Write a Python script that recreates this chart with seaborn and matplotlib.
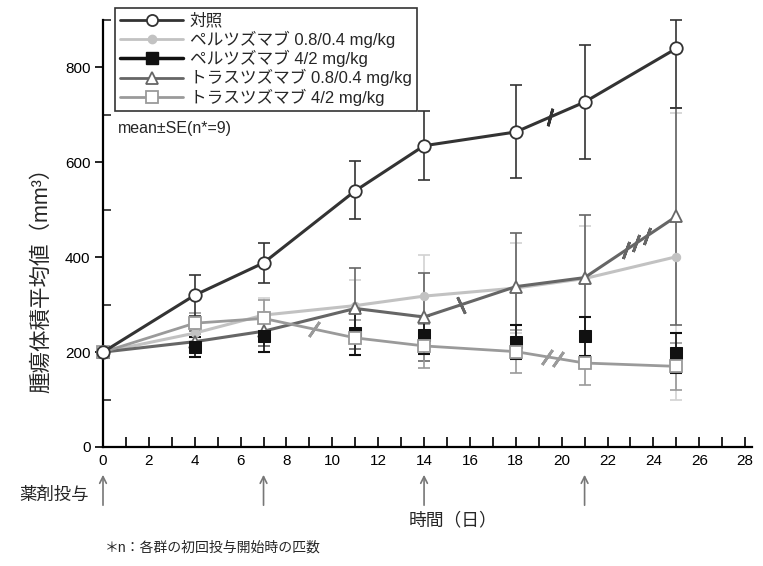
import matplotlib
matplotlib.use("Agg")
import matplotlib.pyplot as plt
import seaborn as sns
import numpy as np
from matplotlib.lines import Line2D
from matplotlib.ticker import MultipleLocator

# ---------------- data ----------------
days = [0, 4, 7, 11, 14, 18, 21, 25]
control = [200, 320, 388, 540, 635, 664, 727, 840]
control_se_lo = [8, 43, 43, 60, 73, 98, 121, 125]
control_se_hi = [8, 43, 43, 62, 73, 98, 121, 59]
pertu_low = [200, 240, 278, 298, 318, 335, 355, 401]
pertu_low_se = [8, 22, 35, 55, 87, 95, 110, 302]
pertu_high = [200, 211, 233, 240, 236, 221, 233, 198]
pertu_high_se = [8, 21, 33, 46, 40, 36, 41, 42]
trastu_low = [200, 222, 244, 292, 274, 338, 357, 486]
trastu_low_se = [8, 22, 32, 86, 93, 113, 133, 228]
trastu_high = [200, 261, 271, 230, 213, 201, 177, 170]
trastu_high_se = [8, 22, 38, 37, 46, 46, 47, 50]

labels = ["対照", "ペルツズマブ 0.8/0.4 mg/kg", "ペルツズマブ 4/2 mg/kg",
          "トラスツズマブ 0.8/0.4 mg/kg", "トラスツズマブ 4/2 mg/kg"]
dosing_days = [0, 7, 14, 21]
x_ticks = list(range(0, 29, 2))
y_ticks = [0, 200, 400, 600, 800]

# break marks (days along the curves)
breaks_control = [19.5]
breaks_trastu_high = [9.2, 19.35, 19.85]
breaks_trastu_low = [15.6, 22.8, 23.25, 23.7]

# ---------------- style ----------------
sns.set_theme(style="ticks")
plt.rcParams["font.family"] = ["Liberation Sans", "Noto Sans CJK JP", "DejaVu Sans"]

W, H = 763, 566
fig = plt.figure(figsize=(W / 100, H / 100), dpi=100)
ax_left, ax_right, ax_top, ax_bot = 103, 752, 20, 447
ax = fig.add_axes([ax_left / W, 1 - ax_bot / H, (ax_right - ax_left) / W, (ax_bot - ax_top) / H])

c_ctrl = "#333333"
c_pl = "#c2c2c2"
c_ph = "#111111"
c_tl = "#666666"
c_th = "#9a9a9a"

# error bars
ax.errorbar(days, pertu_low, yerr=pertu_low_se, fmt="none", ecolor="#d2d2d2",
            elinewidth=1.2, capsize=4, capthick=1.2, zorder=1, clip_on=False)
ax.errorbar(days, trastu_low, yerr=trastu_low_se, fmt="none", ecolor=c_tl,
            elinewidth=1.2, capsize=4, capthick=1.2, zorder=2, clip_on=False)
ax.errorbar(days, trastu_high, yerr=trastu_high_se, fmt="none", ecolor=c_th,
            elinewidth=1.2, capsize=4, capthick=1.2, zorder=2, clip_on=False)
ax.errorbar(days, pertu_high, yerr=pertu_high_se, fmt="none", ecolor=c_ph,
            elinewidth=1.2, capsize=4, capthick=1.5, zorder=2, clip_on=False)
ax.errorbar(days, control, yerr=[control_se_lo, control_se_hi], fmt="none", ecolor=c_ctrl,
            elinewidth=1.2, capsize=4, capthick=1.2, zorder=2, clip_on=False)

# lines
sns.lineplot(x=days, y=pertu_low, ax=ax, color=c_pl, linewidth=2.2, marker="o",
             markersize=6, markerfacecolor=c_pl, markeredgecolor=c_pl, zorder=3,
             clip_on=False, legend=False)
sns.lineplot(x=days, y=trastu_low, ax=ax, color=c_tl, linewidth=2.2, marker="^",
             markersize=9, markerfacecolor="white", markeredgecolor=c_tl,
             markeredgewidth=1.3, zorder=4, clip_on=False, legend=False)
sns.lineplot(x=days, y=pertu_high, ax=ax, color=c_ph, linestyle="None", marker="s",
             markersize=8, markerfacecolor=c_ph, markeredgecolor=c_ph, zorder=5,
             clip_on=False, legend=False)
sns.lineplot(x=days, y=trastu_high, ax=ax, color=c_th, linewidth=2.0, marker="s",
             markersize=8, markerfacecolor="white", markeredgecolor=c_th,
             markeredgewidth=1.3, zorder=6, clip_on=False, legend=False)
sns.lineplot(x=days, y=control, ax=ax, color=c_ctrl, linewidth=2.2, marker="o",
             markersize=9, markerfacecolor="white", markeredgecolor=c_ctrl,
             markeredgewidth=1.3, zorder=7, clip_on=False, legend=False)

# break marks
def add_breaks(bdays, series, color, angle):
    ys = np.interp(bdays, days, series)
    ax.plot(bdays, ys, linestyle="None", marker=(2, 2, angle), markersize=13,
            markeredgecolor=color, markeredgewidth=2.0, zorder=8)

add_breaks(breaks_control, control, c_ctrl, -15)
add_breaks(breaks_trastu_high, trastu_high, c_th, -35)
add_breaks(breaks_trastu_low[:1], trastu_low, c_tl, 25)
add_breaks(breaks_trastu_low[1:], trastu_low, c_tl, -20)

# axes
ax.set_xlim(0, 28.3)
ax.set_ylim(0, 900)
ax.set_xticks(x_ticks)
ax.set_yticks(y_ticks)
ax.xaxis.set_minor_locator(MultipleLocator(1))
ax.yaxis.set_minor_locator(MultipleLocator(100))
ax.tick_params(axis="x", which="both", direction="in", length=7, width=1.2,
               labelsize=11, colors="black", pad=5)
ax.tick_params(axis="y", which="major", direction="out", length=6, width=1.2,
               labelsize=11, colors="black", pad=3)
ax.tick_params(axis="y", which="minor", direction="in", length=6, width=1.2)
for s in ["top", "right"]:
    ax.spines[s].set_visible(False)
for s in ["left", "bottom"]:
    ax.spines[s].set_linewidth(1.6)
    ax.spines[s].set_color("black")
ax.set_xlabel("")
ax.set_ylabel("")
ax.set_facecolor("white")

# legend
handles = [
    Line2D([], [], color=c_ctrl, lw=2, marker="o", ms=8, mfc="white", mec=c_ctrl, mew=1.3),
    Line2D([], [], color=c_pl, lw=2, marker="o", ms=6, mfc=c_pl, mec=c_pl),
    Line2D([], [], color=c_ph, lw=2.5, marker="s", ms=8, mfc=c_ph, mec=c_ph),
    Line2D([], [], color=c_tl, lw=2, marker="^", ms=8, mfc="white", mec=c_tl, mew=1.3),
    Line2D([], [], color=c_th, lw=2, marker="s", ms=8, mfc="white", mec=c_th, mew=1.3),
]
leg = fig.legend(handles, labels, loc="upper left", bbox_to_anchor=(115 / W, 1 - 8 / H),
                 frameon=True, fancybox=False, edgecolor="#333333", framealpha=1,
                 handlelength=3.8, handletextpad=0.4, fontsize=12,
                 borderaxespad=0, labelspacing=0.12, borderpad=0.3)
leg.get_frame().set_linewidth(1.2)

fig.text(118 / W, 1 - 128 / H, "mean±SE(n*=9)", fontsize=11.5, va="center", ha="left")

# labels
fig.text(42 / W, 1 - 275 / H, "腫瘍体積平均値（mm³）", rotation=90, fontsize=15.5,
         va="center", ha="center")
fig.text(453 / W, 1 - 521 / H, "時間（日）", fontsize=12.8, va="center", ha="center")
fig.text(54 / W, 1 - 495 / H, "薬剤投与", fontsize=12.5, va="center", ha="center")
fig.text(105 / W, 1 - 548 / H, "＊n：各群の初回投与開始時の匹数", fontsize=10,
         va="center", ha="left")

# dosing arrows
trans = ax.get_xaxis_transform()
y_head = (ax_bot - 472) / (ax_bot - ax_top)
y_tail = (ax_bot - 508) / (ax_bot - ax_top)
for d in dosing_days:
    ax.annotate("", xy=(d, y_head), xytext=(d, y_tail), xycoords=trans, textcoords=trans,
                arrowprops=dict(arrowstyle="->", color="#777777", lw=1.2,
                                mutation_scale=12), annotation_clip=False)

fig.savefig("out.png", dpi=100, facecolor="white")
